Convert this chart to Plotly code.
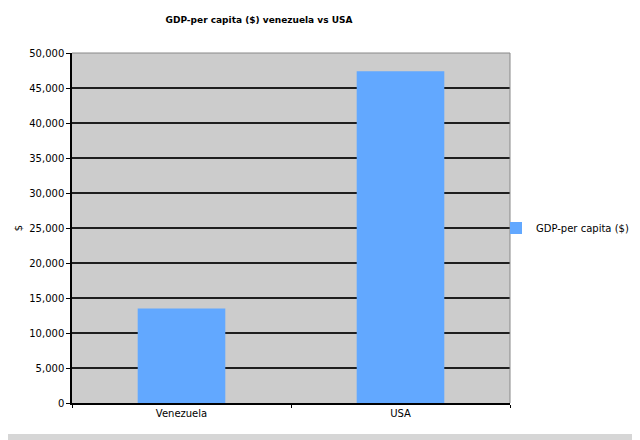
import plotly.graph_objects as go

countries = ["Venezuela", "USA"]
gdp_per_capita = [13500, 47400]
series_name = "GDP-per capita ($)"
y_ticks = [0, 5000, 10000, 15000, 20000, 25000, 30000, 35000, 40000, 45000, 50000]

# the page puts the figure 8px in from the top/left, so work in window px
# and subtract that offset. plot area in window px: x 72..510, y 53..403
OFF = 8
W, H = 640 - OFF, 440 - OFF
L, T = 72 - OFF, 53 - OFF
R, B = 640 - 510, 440 - 403
pw, ph = W - L - R, H - T - B

def px_x(p):
    return (p - 72) / pw

def px_y(p):
    return (403 - p) / ph

fig = go.Figure()
fig.add_trace(go.Bar(
    x=countries, y=gdp_per_capita, name=series_name,
    marker=dict(color="#62a8ff", line=dict(width=0)),
    showlegend=True,
))

fig.update_layout(
    width=W, height=H,
    margin=dict(l=L, r=R, t=T, b=B, autoexpand=False),
    paper_bgcolor="white",
    plot_bgcolor="#cccccc",
    font=dict(family="DejaVu Sans", size=10, color="black"),
    title=dict(text="<b>GDP-per capita ($) venezuela vs USA</b>",
               font=dict(size=9, family="DejaVu Sans"),
               x=(259 - OFF) / W, xanchor="center", y=1 - (20 - OFF) / H, yanchor="middle"),
    bargap=0.6,
    showlegend=True,
    legend=dict(x=px_x(496), xanchor="left", y=0.5, yanchor="middle",
                bgcolor="rgba(0,0,0,0)", font=dict(size=10),
                itemwidth=30),
    xaxis=dict(showline=True, linecolor="black", linewidth=1.5,
               ticks="outside", ticklen=3, tickcolor="black",
               tickson="boundaries", showgrid=False, fixedrange=True),
    yaxis=dict(range=[0, 50000], tickvals=y_ticks, tickformat=",",
               showline=True, linecolor="black", linewidth=1.5,
               ticks="outside", ticklen=4, tickcolor="black",
               showgrid=True, gridcolor="#1e1e1e", gridwidth=1.5,
               zeroline=False,
               title=dict(text="$", font=dict(size=10), standoff=5)),
)

# thin gray frame on top/right of plot area
fig.add_shape(type="line", xref="paper", yref="paper", x0=0, x1=1, y0=1, y1=1,
              line=dict(color="#888888", width=1))
fig.add_shape(type="line", xref="paper", yref="paper", x0=1, x1=1, y0=0, y1=1,
              line=dict(color="#888888", width=1))

# gray window border at the bottom and right edge
fig.add_shape(type="rect", xref="paper", yref="paper",
              x0=px_x(0), x1=px_x(650), y0=px_y(434), y1=px_y(450),
              fillcolor="#d6d6d6", line=dict(width=0))
fig.add_shape(type="rect", xref="paper", yref="paper",
              x0=px_x(638), x1=px_x(650), y0=px_y(0), y1=px_y(450),
              fillcolor="#d6d6d6", line=dict(width=0))

fig.write_html("out.html")
